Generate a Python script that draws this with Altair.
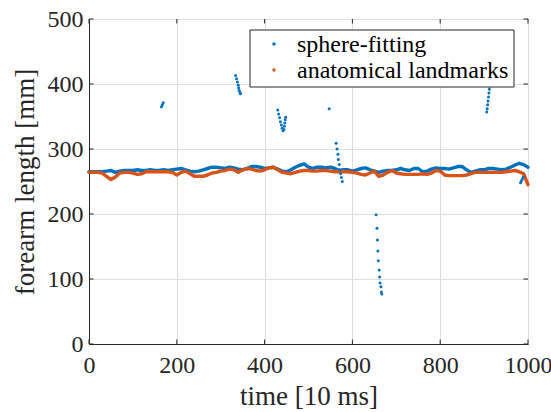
import altair as alt
import pandas as pd

# ---- data ----
times = list(range(0, 1001, 10))

sphere_fitting = [
    265, 265, 265, 265, 266, 267, 264, 266, 267, 267,
    267, 268, 267, 267, 268, 267, 267, 268, 267, 268,
    269, 270, 268, 266, 265, 266, 268, 270, 272, 272,
    271, 270, 272, 271, 269, 268, 270, 273, 273, 272,
    270, 271, 272, 269, 266, 265, 268, 272, 275, 277,
    272, 270, 272, 272, 271, 272, 270, 267, 268, 268,
    266, 268, 270, 271, 268, 266, 264, 266, 267, 267,
    268, 270, 268, 267, 270, 270, 265, 266, 269, 271,
    270, 270, 269, 271, 273, 273, 268, 264, 266, 268,
    268, 270, 270, 269, 268, 269, 272, 275, 278, 276,
    272,
]

anatomical_landmarks = [
    264, 264, 264, 263, 258, 253, 257, 263, 264, 264,
    263, 261, 262, 265, 265, 265, 265, 265, 265, 264,
    260, 264, 266, 262, 258, 258, 258, 260, 263, 264,
    266, 267, 269, 268, 264, 268, 270, 269, 267, 266,
    268, 271, 272, 268, 264, 263, 262, 264, 266, 267,
    267, 266, 266, 267, 267, 266, 265, 265, 265, 265,
    264, 263, 261, 260, 263, 266, 258, 260, 264, 267,
    263, 262, 261, 261, 261, 261, 262, 261, 263, 267,
    266, 260, 259, 259, 259, 259, 260, 262, 264, 264,
    264, 264, 264, 264, 264, 265, 266, 267, 265, 262,
    245,
]

# sphere-fitting outlier samples
outlier_t = [165, 167, 169,
             334, 336, 338, 340, 341, 342, 344, 345,
             430, 432, 434, 436, 438, 440, 442, 444, 445, 446, 447, 448,
             547,
             563, 565, 567, 568, 570, 571, 573, 575, 577,
             654, 656, 657, 658, 659, 661, 662, 663, 665, 666, 667,
             906, 907, 908, 909, 910, 911, 912, 913,
             983, 985, 987, 989]
outlier_v = [365, 368, 371,
             413, 408, 403, 398, 394, 390, 387, 385,
             360, 354, 348, 342, 337, 332, 328, 330, 335, 340, 345, 349,
             362,
             309, 300, 292, 284, 276, 268, 262, 256, 250,
             199, 178, 160, 143, 128, 114, 103, 94, 88, 80, 77,
             357, 362, 368, 374, 380, 386, 392, 397,
             248, 251, 254, 257]

x_ticks = [0, 200, 400, 600, 800, 1000]
y_ticks = [0, 100, 200, 300, 400, 500]
series_names = ["sphere-fitting", "anatomical landmarks"]
colors = ["#0072BD", "#D95319"]

# ---- tables ----
band = pd.DataFrame({
    "t": times + times,
    "v": sphere_fitting + anatomical_landmarks,
    "series": [series_names[0]] * len(times) + [series_names[1]] * len(times),
})
outliers = pd.DataFrame({"t": outlier_t, "v": outlier_v, "series": series_names[0]})
xt = pd.DataFrame({"t": x_ticks})
yt = pd.DataFrame({"v": y_ticks})
leg = pd.DataFrame({"series": series_names})

W, H = 439, 325
FONT = "Liberation Serif"
AX = "#262626"

xscale = alt.Scale(domain=[0, 1000], nice=False, zero=False)
yscale = alt.Scale(domain=[0, 500], nice=False)

xenc = alt.X("t:Q", scale=xscale, axis=alt.Axis(
    values=x_ticks, title="time [10 ms]", format="d", ticks=False,
    labelFlush=False, labelPadding=9, titlePadding=6, grid=True))
yenc = alt.Y("v:Q", scale=yscale, axis=alt.Axis(
    values=y_ticks, title="forearm length [mm]", format="d", ticks=False,
    labelFlush=False, labelPadding=6, titlePadding=8, grid=True))

color = alt.Color("series:N", scale=alt.Scale(domain=series_names, range=colors),
                  legend=None)

blue_line = alt.Chart(band).transform_filter(
    alt.datum.series == series_names[0]
).mark_line(strokeWidth=3.4, strokeJoin="round", strokeCap="round").encode(
    x=xenc, y=yenc, color=color)

orange_line = alt.Chart(band).transform_filter(
    alt.datum.series == series_names[1]
).mark_line(strokeWidth=3.4, strokeJoin="round", strokeCap="round").encode(
    x=xenc, y=yenc, color=color)

out_pts = alt.Chart(outliers).mark_circle(size=9, opacity=1).encode(x=xenc, y=yenc, color=color)

tl = 4.5
xt_bottom = alt.Chart(xt).mark_rule(color=AX, strokeWidth=1).encode(
    x=alt.X("t:Q", scale=xscale), y=alt.value(H), y2=alt.value(H - tl))
xt_top = alt.Chart(xt).mark_rule(color=AX, strokeWidth=1).encode(
    x=alt.X("t:Q", scale=xscale), y=alt.value(0), y2=alt.value(tl))
yt_left = alt.Chart(yt).mark_rule(color=AX, strokeWidth=1).encode(
    y=alt.Y("v:Q", scale=yscale), x=alt.value(0), x2=alt.value(tl))
yt_right = alt.Chart(yt).mark_rule(color=AX, strokeWidth=1).encode(
    y=alt.Y("v:Q", scale=yscale), x=alt.value(W), x2=alt.value(W - tl))

# ---- legend box (MATLAB style, drawn in the plot's upper right) ----
LX0, LX1, LY0, LY1 = 161, 425, 11, 68
ROWS = [25, 51]
leg_box = alt.Chart(leg).transform_filter(
    alt.datum.series == series_names[0]
).mark_rect(fill="white", stroke=AX, strokeWidth=1).encode(
    x=alt.value(LX0), x2=alt.value(LX1), y=alt.value(LY0), y2=alt.value(LY1))

leg_layers = []
for i, name in enumerate(series_names):
    sub = alt.Chart(leg).transform_filter(alt.datum.series == name)
    leg_layers.append(sub.mark_circle(size=12, opacity=1, color=colors[i]).encode(
        x=alt.value(185), y=alt.value(ROWS[i])))
    leg_layers.append(sub.mark_text(
        font=FONT, fontSize=24, color="black", align="left", baseline="middle"
    ).encode(x=alt.value(208), y=alt.value(ROWS[i] + 1), text="series:N"))

chart = alt.layer(
    blue_line, orange_line, out_pts,
    xt_bottom, xt_top, yt_left, yt_right,
    leg_box, *leg_layers,
).properties(
    width=W, height=H,
    autosize=alt.AutoSizeParams(type="none"),
    padding={"left": 89, "top": 19, "right": 23, "bottom": 68},
    background="white",
).configure_view(
    stroke=AX, strokeWidth=1,
).configure_axis(
    domainColor=AX, domainWidth=1, gridColor="#dedede", gridWidth=1,
    labelFont=FONT, labelFontSize=24, labelColor=AX,
    titleFont=FONT, titleFontSize=27, titleColor=AX, titleFontWeight="normal",
)

chart.save("out.html", embed_options={"renderer": "svg", "actions": False})
